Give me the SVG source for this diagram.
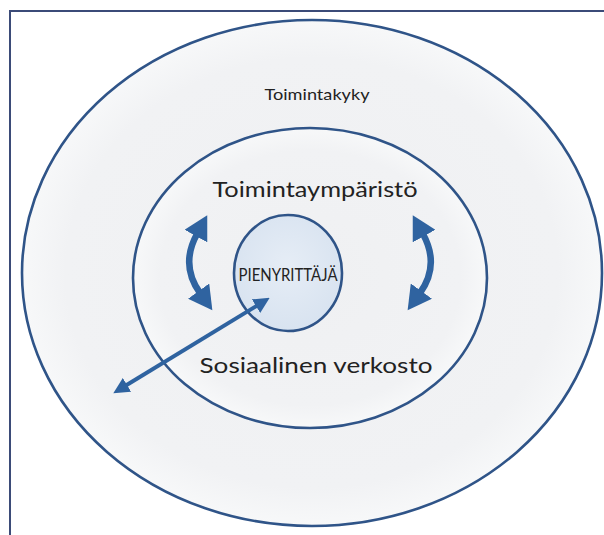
<svg xmlns="http://www.w3.org/2000/svg" width="604" height="535" viewBox="0 0 604 535">
  <style>
    .ring { stroke: #2f5488; stroke-width: 2.6; }
    .lbl { font-family: "Lato", "Open Sans", "Liberation Sans", sans-serif; fill: #222; text-anchor: middle; }
    .arr { fill: none; stroke: #2f63a0; stroke-linecap: butt; }
  </style>
  <defs>
    <radialGradient id="haze" cx="50%" cy="50%" r="50%">
      <stop offset="0" stop-color="#eff0f2"/>
      <stop offset="0.85" stop-color="#f1f2f4"/>
      <stop offset="1" stop-color="#f7f8f9"/>
    </radialGradient>
    <radialGradient id="core" cx="50%" cy="45%" r="55%">
      <stop offset="0" stop-color="#e6edf6"/>
      <stop offset="1" stop-color="#d8e3f0"/>
    </radialGradient>
    <marker id="headBig" markerUnits="userSpaceOnUse" markerWidth="26" markerHeight="26" refX="2" refY="11" viewBox="0 0 22 22" orient="auto-start-reverse">
      <path d="M0 0 L20 11 L0 22 Z" fill="#2f63a0"/>
    </marker>
    <marker id="headSmall" markerUnits="userSpaceOnUse" markerWidth="16" markerHeight="16" refX="2" refY="7" viewBox="0 0 14 14" orient="auto-start-reverse">
      <path d="M0 0 L14 7 L0 14 Z" fill="#2f63a0"/>
    </marker>
  </defs>

  <rect width="604" height="535" fill="#ffffff"/>

  <!-- page frame -->
  <path d="M10 535 L10 11 L604 11" fill="none" stroke="#3b4b78" stroke-width="2"/>

  <g id="toimintakyky">
    <ellipse cx="312" cy="273" rx="290" ry="253" fill="url(#haze)" class="ring"/>
    <text x="317" y="100" class="lbl" font-size="16" textLength="105" lengthAdjust="spacingAndGlyphs">Toimintakyky</text>
  </g>

  <g id="toimintaymparisto">
    <ellipse cx="310" cy="278" rx="177" ry="150" fill="url(#haze)" class="ring"/>
    <text x="315" y="197" class="lbl" font-size="22" textLength="205" lengthAdjust="spacingAndGlyphs">Toimintaympäristö</text>
    <text x="316" y="373" class="lbl" font-size="22" textLength="233" lengthAdjust="spacingAndGlyphs">Sosiaalinen verkosto</text>
  </g>

  <g id="pienyrittaja">
    <ellipse cx="288" cy="273" rx="54" ry="58" fill="url(#core)" class="ring"/>
    <text x="288" y="281" class="lbl" font-size="16.5" textLength="99" lengthAdjust="spacingAndGlyphs">PIENYRITTÄJÄ</text>
  </g>

  <g id="connectors">
    <path class="arr" stroke-width="6.5" d="M197 234 Q180 265 200 293" marker-start="url(#headBig)" marker-end="url(#headBig)"/>
    <path class="arr" stroke-width="6.5" d="M423 234 Q440 265 420 293" marker-start="url(#headBig)" marker-end="url(#headBig)"/>
    <path class="arr" stroke-width="4" d="M125 386 L258 305" marker-start="url(#headSmall)" marker-end="url(#headSmall)"/>
  </g>
</svg>
